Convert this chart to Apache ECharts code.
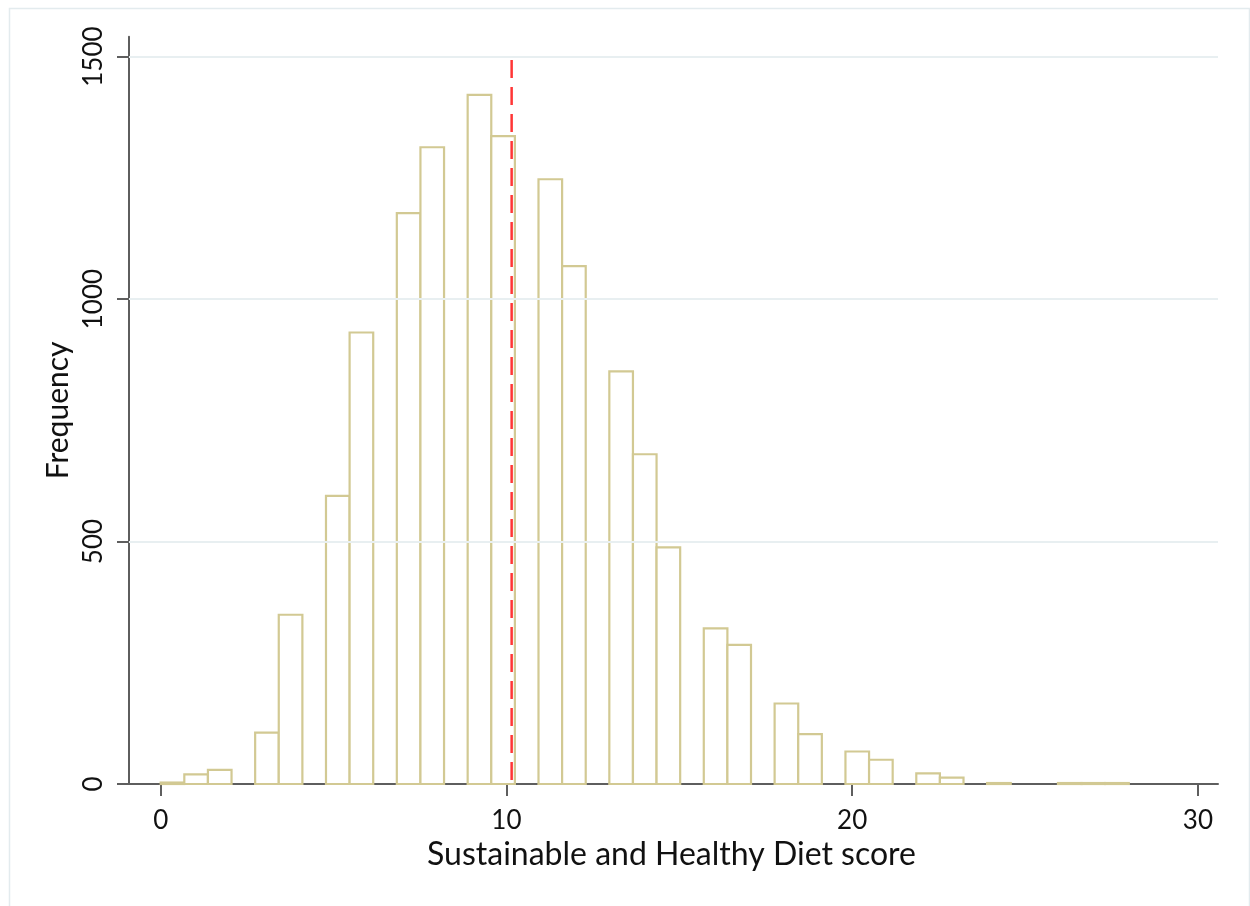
<!DOCTYPE html>
<html>
<head>
<meta charset="utf-8">
<script src="https://cdn.jsdelivr.net/npm/echarts@6/dist/echarts.min.js"></script>
<style>
html,body{margin:0;padding:0;background:#fff;}
#chart{width:1250px;height:906px;}
</style>
</head>
<body>
<div id="chart"></div>
<script>
// ---- data ----
const scoreMin = 0;
const scoreMax = 28;
const binCounts = [3, 20, 29, 0, 106, 349, 0, 594, 931, 0, 1177, 1313, 0, 1421, 1336, 0,
  1247, 1068, 0, 851, 680, 488, 0, 321, 287, 0, 166, 103, 0, 67, 50, 0, 22, 13, 0, 2, 0, 0, 2, 2, 2];
const meanScore = 10.15;
const meanLineTop = 1493;
const xTicks = [0, 10, 20, 30];
const yTicks = [0, 500, 1000, 1500];
const gridLineValues = [500, 1000, 1500];
const xTitle = 'Sustainable and Healthy Diet score';
const yTitle = 'Frequency';

const binWidth = (scoreMax - scoreMin) / binCounts.length;
const histData = binCounts.map((c, i) => [scoreMin + i * binWidth, scoreMin + (i + 1) * binWidth, c]);

const FONT = 'Lato';
const chart = echarts.init(document.getElementById('chart'), null, {renderer: 'canvas'});
chart.setOption({
  backgroundColor: '#ffffff',
  animation: false,
  graphic: [{
    type: 'rect', left: 7, top: 6, shape: {width: 1240, height: 920},
    style: {fill: 'none', stroke: '#e3ebee', lineWidth: 1.5}, silent: true, z: -10
  }],
  grid: {left: 129, right: 32, top: 36.7, bottom: 122, containLabel: false},
  xAxis: {
    type: 'value', min: -0.917, max: 30.58,
    name: xTitle, nameLocation: 'middle', nameGap: 51,
    nameTextStyle: {fontFamily: FONT, fontSize: 32, color: '#111', padding: [0, 4, 0, 0]},
    axisLine: {show: true, onZero: false, lineStyle: {color: '#5e5e5e', width: 2}},
    axisTick: {show: true, length: 12, inside: false, customValues: xTicks, lineStyle: {color: '#5e5e5e', width: 2}},
    axisLabel: {customValues: xTicks, margin: 24, fontFamily: FONT, fontSize: 26, color: '#111',
      formatter: v => String(v)},
    splitLine: {show: false}
  },
  yAxis: {
    type: 'value', min: 0, max: 1541,
    name: yTitle, nameLocation: 'middle', nameGap: 56, nameRotate: 90,
    nameTextStyle: {fontFamily: FONT, fontSize: 30, color: '#111'},
    axisLine: {show: true, onZero: false, lineStyle: {color: '#5e5e5e', width: 2}},
    axisTick: {show: true, length: 12, customValues: yTicks, lineStyle: {color: '#5e5e5e', width: 2}},
    axisLabel: {customValues: yTicks, rotate: 90, margin: 22, fontFamily: FONT, fontSize: 26, color: '#111',
      formatter: v => String(v)},
    splitLine: {show: false}
  },
  series: [
    {
      type: 'line', data: [], z: 1, silent: true,
      markLine: {
        silent: true, symbol: ['none', 'none'], label: {show: false},
        lineStyle: {color: '#e8eff1', width: 2, type: 'solid'},
        data: gridLineValues.map(v => ({yAxis: v}))
      }
    },
    {
      type: 'custom', z: 2,
      data: histData,
      encode: {x: [0, 1], y: 2},
      renderItem: function (params, api) {
        const count = api.value(2);
        if (!count) return null;
        const p0 = api.coord([api.value(0), 0]);
        const p1 = api.coord([api.value(1), count]);
        return {
          type: 'rect',
          shape: {x: p0[0], y: p1[1], width: p1[0] - p0[0], height: p0[1] - p1[1]},
          style: {fill: '#ffffff', stroke: '#d2c993', lineWidth: 2.2}
        };
      }
    },
    {
      type: 'line', z: 3, silent: true, symbol: 'none',
      data: [[meanScore, meanLineTop], [meanScore, 0]],
      lineStyle: {color: '#ff3636', width: 2.5, type: [18, 9]}
    }
  ]
});
</script>
</body>
</html>
